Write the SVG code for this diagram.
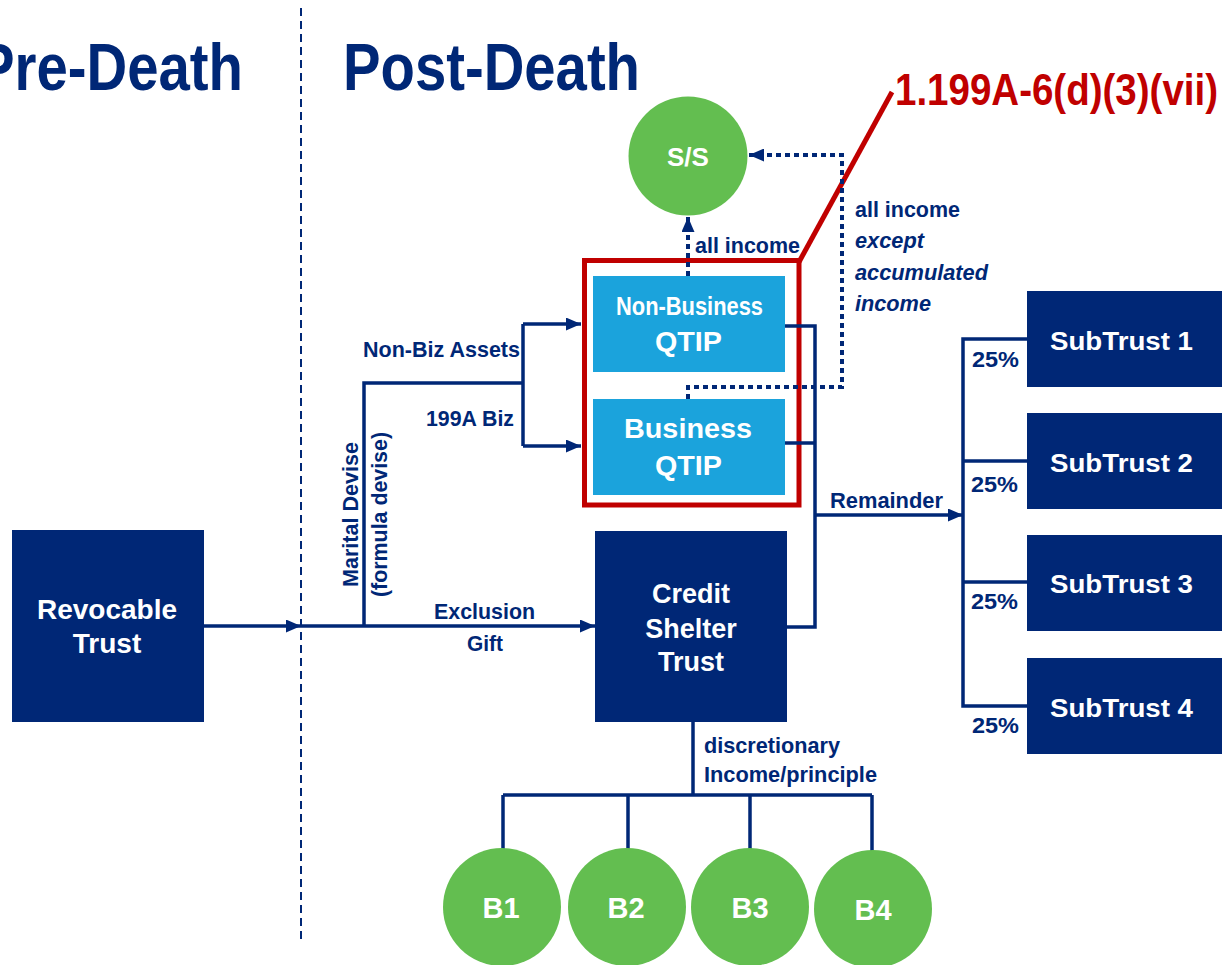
<svg xmlns="http://www.w3.org/2000/svg" width="1222" height="965" viewBox="0 0 1222 965">
  <defs>
    <style>
      text { font-family: "Liberation Sans", Arial, sans-serif; font-weight: bold; }
      .navy { fill: #002776; }
      .white { fill: #ffffff; }
      .title { font-size: 66px; fill: #002776; }
      .lbl { font-size: 22px; fill: #002776; }
      .it { font-style: italic; }
      .box { fill: #002776; }
      .qtip { fill: #1BA3DC; }
      .circ { fill: #63BE50; }
      .wire { fill: none; stroke: #002776; stroke-width: 3.5; }
      .dash { fill: none; stroke: #002776; stroke-width: 4; stroke-dasharray: 5 4; }
    </style>
    <marker id="arrow" markerUnits="userSpaceOnUse" markerWidth="15" markerHeight="13" refX="15" refY="6.5" orient="auto">
      <path d="M0,0 L15,6.5 L0,13 Z" fill="#002776"/>
    </marker>
  </defs>

  <rect width="1222" height="965" fill="#ffffff"/>

  <!-- phase divider and headings -->
  <line x1="301" y1="8" x2="301" y2="942" stroke="#002776" stroke-width="2" stroke-dasharray="8 5"/>
  <text class="title" x="-23" y="90" textLength="266" lengthAdjust="spacingAndGlyphs">Pre-Death</text>
  <text class="title" x="343" y="90" textLength="297" lengthAdjust="spacingAndGlyphs">Post-Death</text>

  <!-- regulation callout -->
  <g id="callout">
    <rect x="584.5" y="260.5" width="214.5" height="244.5" fill="none" stroke="#C00000" stroke-width="5"/>
    <line x1="799" y1="262" x2="892" y2="92" stroke="#C00000" stroke-width="5"/>
    <text x="895" y="105" font-size="44" fill="#C00000" textLength="323" lengthAdjust="spacingAndGlyphs">1.199A-6(d)(3)(vii)</text>
  </g>

  <!-- connectors -->
  <g id="connectors">
    <path class="wire" d="M204 626 H301" marker-end="url(#arrow)"/>
    <path class="wire" d="M301 626 H595" marker-end="url(#arrow)"/>
    <path class="wire" d="M364 626 V383 H523"/>
    <path class="wire" d="M523 324 V446"/>
    <path class="wire" d="M523 324 H581" marker-end="url(#arrow)"/>
    <path class="wire" d="M523 446 H581" marker-end="url(#arrow)"/>
    <path class="wire" d="M785 326 H815 V627 H787"/>
    <path class="wire" d="M785 443 H815"/>
    <path class="wire" d="M815 515 H963" marker-end="url(#arrow)"/>
    <path class="wire" d="M1027 339 H963 V706 H1027"/>
    <path class="wire" d="M963 461 H1027"/>
    <path class="wire" d="M963 582 H1027"/>
    <path class="wire" d="M693 722 V795"/>
    <path class="wire" d="M503 795 H872"/>
    <path class="wire" d="M503 795 V849"/>
    <path class="wire" d="M628 795 V849"/>
    <path class="wire" d="M750 795 V849"/>
    <path class="wire" d="M872 795 V851"/>
    <path class="dash" d="M688 276 V217" marker-end="url(#arrow)"/>
    <path class="dash" d="M688 399 V387 H842 V155 H749" marker-end="url(#arrow)"/>
  </g>

  <!-- connector labels -->
  <g id="labels">
    <text class="lbl" x="363" y="357" textLength="157" lengthAdjust="spacingAndGlyphs">Non-Biz Assets</text>
    <text class="lbl" x="426" y="426" textLength="88" lengthAdjust="spacingAndGlyphs">199A Biz</text>
    <text class="lbl" x="434" y="619" textLength="101" lengthAdjust="spacingAndGlyphs">Exclusion</text>
    <text class="lbl" x="467" y="651" textLength="36" lengthAdjust="spacingAndGlyphs">Gift</text>
    <text class="lbl" font-size="25" transform="translate(358 587) rotate(-90)" textLength="145" lengthAdjust="spacingAndGlyphs">Marital Devise</text>
    <text class="lbl" font-size="25" transform="translate(387 597) rotate(-90)" textLength="165" lengthAdjust="spacingAndGlyphs">(formula devise)</text>
    <text class="lbl" x="695" y="253" textLength="105" lengthAdjust="spacingAndGlyphs">all income</text>
    <text class="lbl" x="855" y="217" textLength="105" lengthAdjust="spacingAndGlyphs">all income</text>
    <text class="lbl it" x="855" y="248" textLength="69" lengthAdjust="spacingAndGlyphs">except</text>
    <text class="lbl it" x="855" y="280" textLength="133" lengthAdjust="spacingAndGlyphs">accumulated</text>
    <text class="lbl it" x="855" y="311" textLength="76" lengthAdjust="spacingAndGlyphs">income</text>
    <text class="lbl" font-size="24" x="830" y="508" textLength="113" lengthAdjust="spacingAndGlyphs">Remainder</text>
    <text class="lbl" font-size="26" x="972" y="367" textLength="47" lengthAdjust="spacingAndGlyphs">25%</text>
    <text class="lbl" font-size="26" x="971" y="492" textLength="47" lengthAdjust="spacingAndGlyphs">25%</text>
    <text class="lbl" font-size="26" x="971" y="609" textLength="47" lengthAdjust="spacingAndGlyphs">25%</text>
    <text class="lbl" font-size="26" x="972" y="733" textLength="47" lengthAdjust="spacingAndGlyphs">25%</text>
    <text class="lbl" x="704" y="753" textLength="136" lengthAdjust="spacingAndGlyphs">discretionary</text>
    <text class="lbl" x="704" y="782" textLength="173" lengthAdjust="spacingAndGlyphs">Income/principle</text>
  </g>

  <!-- nodes -->
  <g id="revocable-trust">
    <rect class="box" x="12" y="530" width="192" height="192"/>
    <text class="white" font-size="28" x="107" y="619" text-anchor="middle">Revocable</text>
    <text class="white" font-size="28" x="107" y="653" text-anchor="middle">Trust</text>
  </g>

  <g id="credit-shelter-trust">
    <rect class="box" x="595" y="531" width="192" height="191"/>
    <text class="white" font-size="27" x="691" y="603" text-anchor="middle">Credit</text>
    <text class="white" font-size="27" x="691" y="638" text-anchor="middle">Shelter</text>
    <text class="white" font-size="27" x="691" y="671" text-anchor="middle">Trust</text>
  </g>

  <g id="non-business-qtip">
    <rect class="qtip" x="593" y="276" width="192" height="96"/>
    <text class="white" font-size="25" x="616" y="315" textLength="147" lengthAdjust="spacingAndGlyphs">Non-Business</text>
    <text class="white" font-size="28" x="655" y="351" textLength="67" lengthAdjust="spacingAndGlyphs">QTIP</text>
  </g>

  <g id="business-qtip">
    <rect class="qtip" x="593" y="399" width="192" height="96"/>
    <text class="white" font-size="28" x="624" y="438" textLength="128" lengthAdjust="spacingAndGlyphs">Business</text>
    <text class="white" font-size="28" x="655" y="475" textLength="67" lengthAdjust="spacingAndGlyphs">QTIP</text>
  </g>

  <g id="spouse">
    <circle class="circ" cx="688" cy="156" r="59.5"/>
    <text class="white" font-size="26" x="688" y="166" text-anchor="middle">S/S</text>
  </g>

  <g id="subtrust-1">
    <rect class="box" x="1027" y="291" width="195" height="96"/>
    <text class="white" font-size="26" x="1050" y="350" textLength="143" lengthAdjust="spacingAndGlyphs">SubTrust 1</text>
  </g>
  <g id="subtrust-2">
    <rect class="box" x="1027" y="413" width="195" height="96"/>
    <text class="white" font-size="26" x="1050" y="472" textLength="143" lengthAdjust="spacingAndGlyphs">SubTrust 2</text>
  </g>
  <g id="subtrust-3">
    <rect class="box" x="1027" y="535" width="195" height="96"/>
    <text class="white" font-size="26" x="1050" y="593" textLength="143" lengthAdjust="spacingAndGlyphs">SubTrust 3</text>
  </g>
  <g id="subtrust-4">
    <rect class="box" x="1027" y="658" width="195" height="96"/>
    <text class="white" font-size="26" x="1050" y="717" textLength="143" lengthAdjust="spacingAndGlyphs">SubTrust 4</text>
  </g>

  <g id="b1">
    <circle class="circ" cx="502" cy="907" r="59"/>
    <text class="white" font-size="29" x="501" y="918" text-anchor="middle">B1</text>
  </g>
  <g id="b2">
    <circle class="circ" cx="627" cy="907" r="59"/>
    <text class="white" font-size="29" x="626" y="918" text-anchor="middle">B2</text>
  </g>
  <g id="b3">
    <circle class="circ" cx="750" cy="907" r="59"/>
    <text class="white" font-size="29" x="750" y="918" text-anchor="middle">B3</text>
  </g>
  <g id="b4">
    <circle class="circ" cx="873" cy="909" r="59"/>
    <text class="white" font-size="29" x="873" y="920" text-anchor="middle">B4</text>
  </g>
</svg>
